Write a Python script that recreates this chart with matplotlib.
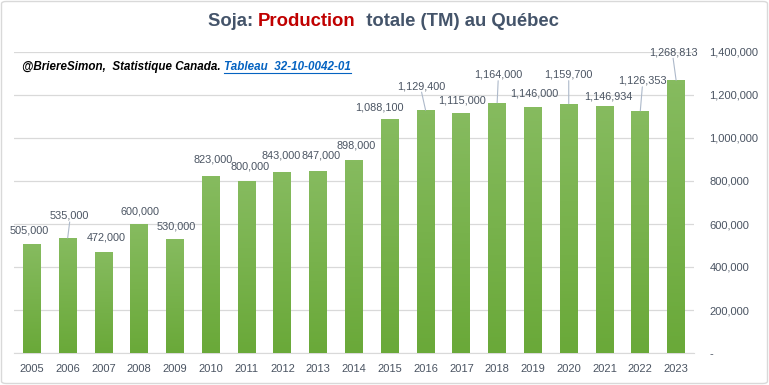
import matplotlib
matplotlib.use("Agg")
import matplotlib.pyplot as plt
import numpy as np
from matplotlib.patches import FancyBboxPatch
from matplotlib.colors import LinearSegmentedColormap

# data
years = ['2005', '2006', '2007', '2008', '2009', '2010', '2011', '2012', '2013', '2014',
         '2015', '2016', '2017', '2018', '2019', '2020', '2021', '2022', '2023']
production = [505000, 535000, 472000, 600000, 530000, 823000, 800000, 843000, 847000, 898000,
              1088100, 1129400, 1115000, 1164000, 1146000, 1159700, 1146934, 1126353, 1268813]
yticks = [0, 200000, 400000, 600000, 800000, 1000000, 1200000, 1400000]

# label offsets (pixels from bar top) and whether a leader line is drawn
lab_dx = [-3, 2, 3, 1, 1, 2, 3, -1, 3, 2, -10, -4, 1, 1, 1, 0, 4, 2, -3]
lab_dy = [14, 22, 14, 13, 13, 17, 14, 16, 15, 14, 12, 24, 13, 28, 13, 29, 10, 30, 28]
leader = [False, True, False, False, False, False, False, False, False, False,
          False, True, False, True, False, True, False, True, True]

txt = '#4a5462'
grid = '#d9d9d9'
plt.rcParams['font.family'] = ['Liberation Sans', 'DejaVu Sans']

fig = plt.figure(figsize=(7.69, 3.85), dpi=100)
fig.patch.set_facecolor('white')
ax = fig.add_axes([14/769, 32/385, 680/769, 301/385])

x = np.arange(len(years))
bars = ax.bar(x, production, width=0.5, color='none', edgecolor='none', zorder=3)
cmap = LinearSegmentedColormap.from_list('g', ['#6aa939', '#86bb5f'])
grad = np.linspace(0, 1, 64).reshape(-1, 1)
for b in bars:
    im = ax.imshow(grad, cmap=cmap, origin='lower', aspect='auto', zorder=3,
                   extent=[b.get_x(), b.get_x() + b.get_width(), 0, b.get_height()])
    im.set_clip_path(b)

ax.set_xlim(-0.5, len(years) - 0.5)
ax.set_ylim(0, 1400000)
ax.set_xticks(x)
ax.set_xticklabels(years)
ax.yaxis.tick_right()
ax.set_yticks(yticks)
ax.set_yticklabels(['-'] + ['{:,}'.format(v) for v in yticks[1:]])
ax.tick_params(axis='both', length=0, labelsize=8, colors=txt)
ax.tick_params(axis='y', pad=11)
ax.tick_params(axis='x', pad=8)
for s in ['top', 'left', 'right']:
    ax.spines[s].set_visible(False)
ax.spines['bottom'].set_color(grid)
ax.grid(axis='y', color=grid, linewidth=0.9, zorder=0)
ax.set_axisbelow(True)

# data labels
for i, v in enumerate(production):
    ax.annotate('{:,}'.format(v), xy=(i, v), xytext=(lab_dx[i] * 0.72, lab_dy[i] * 0.72),
                textcoords='offset points', ha='center', va='center', fontsize=7.8, color=txt,
                zorder=5)
    if leader[i]:
        ax.annotate('', xy=(i, v), xytext=(lab_dx[i] * 0.72, (lab_dy[i] - 6) * 0.72),
                    textcoords='offset points',
                    arrowprops=dict(arrowstyle='-', color='#adb9ca', lw=0.8, shrinkA=0, shrinkB=0))

# title in pieces
parts = [('Soja: ', '#44546a'), ('Production', '#c00000'), ('  totale (TM) au Québec', '#44546a')]
fig.canvas.draw()
r = fig.canvas.get_renderer()
tobjs = []
for s, c in parts:
    tobjs.append(fig.text(0, 1 - 22/385, s, fontsize=13.3, fontweight='bold', color=c, va='center'))
widths = [t.get_window_extent(r).width for t in tobjs]
xpos = 383 - sum(widths) / 2
for t, w in zip(tobjs, widths):
    t.set_x(xpos / 769)
    xpos += w

# source line
t1 = fig.text(22/769, 1 - 67/385, '@BriereSimon,  Statistique Canada. ', fontsize=8.4,
              fontweight='bold', style='italic', color='black', va='center')
fig.canvas.draw()
w1 = t1.get_window_extent(r).width
t2 = fig.text((22 + w1)/769, 1 - 67/385, 'Tableau  32-10-0042-01', fontsize=8.4,
              fontweight='bold', style='italic', color='#0563c1', va='center')
fig.canvas.draw()
e2 = t2.get_window_extent(r)
fig.add_artist(plt.Line2D([e2.x0/769, e2.x1/769], [(e2.y0 + 0.5)/385, (e2.y0 + 0.5)/385],
                          color='#0563c1', lw=0.8))

# frame
fig.add_artist(FancyBboxPatch((1.5/769, 1.5/385), 766/769, 382/385,
                              boxstyle='round,pad=0,rounding_size=0.006',
                              transform=fig.transFigure, fill=False, edgecolor='#d9d9d9', lw=1))

fig.savefig('out.png', dpi=100)
